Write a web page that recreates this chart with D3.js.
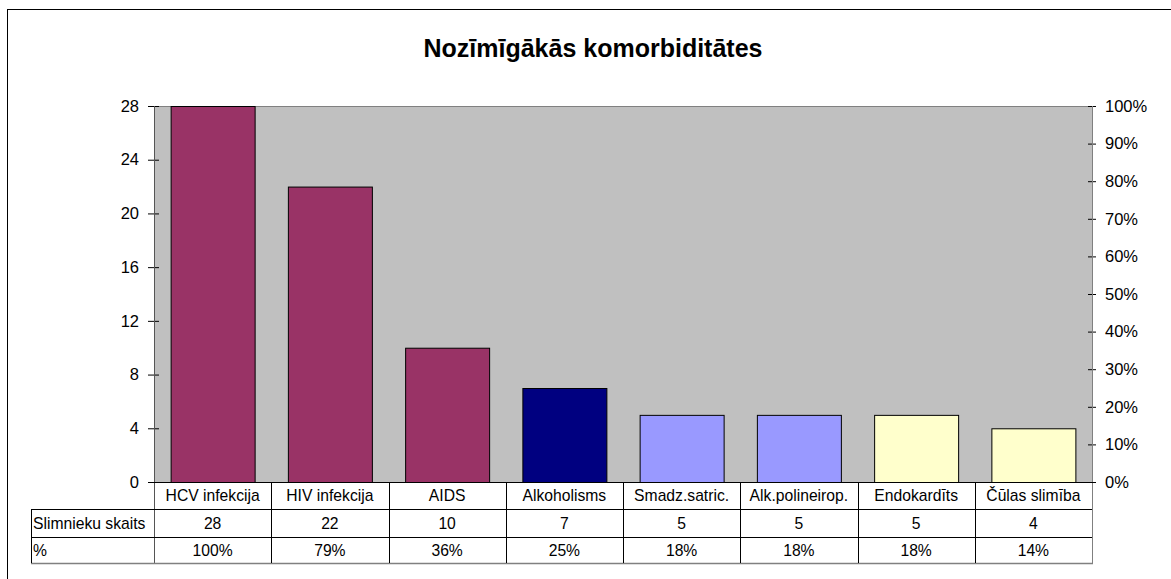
<!DOCTYPE html>
<html><head><meta charset="utf-8">
<script src="https://cdn.jsdelivr.net/npm/d3@7"></script>
<style>body{margin:0;background:#fff}svg{display:block;font-family:Arial,"Liberation Sans",sans-serif}</style>
</head><body>
<svg id="c" width="1171" height="579"></svg>
<script>
const title = "Nozīmīgākās komorbiditātes";
const categories = ["HCV infekcija","HIV infekcija","AIDS","Alkoholisms","Smadz.satric.","Alk.polineirop.","Endokardīts","Čūlas slimība"];
const counts = [28,22,10,7,5,5,5,4];
const percentLabels = ["100%","79%","36%","25%","18%","18%","18%","14%"];
const barColors = ["#993366","#993366","#993366","#000080","#9999FF","#9999FF","#FFFFCC","#FFFFCC"];
const leftTicks = [0,4,8,12,16,20,24,28];
const rightTicks = [0,0.1,0.2,0.3,0.4,0.5,0.6,0.7,0.8,0.9,1.0];
const rowHeaders = ["Slimnieku skaits","%"];

const svg = d3.select("#c");
const L=154, R=1092, T=106, B=482;
const tableLeft=31, row1B=509, row2B=537, row3B=563;
const fs=15.7;

svg.append("rect").attr("x",7.5).attr("y",9.5).attr("width",1200).attr("height",700)
  .attr("fill","#fff").attr("stroke","#000").attr("stroke-width",1);

svg.append("text").attr("x",593).attr("y",57).attr("text-anchor","middle")
  .attr("font-size",25).attr("font-weight","bold").text(title);

const x = d3.scaleBand().domain(categories).range([L,R]).paddingInner(0.2836).paddingOuter(0.1418);
const y = d3.scaleLinear().domain([0,28]).range([B,T]);
const y2 = d3.scaleLinear().domain([0,1]).range([B,T]);

svg.append("rect").attr("x",L).attr("y",T).attr("width",R-L).attr("height",B-T).attr("fill","#C0C0C0");
svg.append("line").attr("x1",L).attr("x2",R).attr("y1",T+0.5).attr("y2",T+0.5).attr("stroke","#808080");

svg.selectAll(".bar").data(counts).enter().append("rect")
  .attr("x",(d,i)=>x(categories[i])+0.5).attr("y",d=>y(d)+0.5)
  .attr("width",x.bandwidth()).attr("height",d=>B-y(d))
  .attr("fill",(d,i)=>barColors[i]).attr("stroke","#000").attr("stroke-width",1);

const la = svg.append("g").attr("transform",`translate(${L},0)`)
  .call(d3.axisLeft(y).tickValues(leftTicks).tickSize(6).tickPadding(8).tickFormat(d3.format("d")));
la.selectAll(".tick line").attr("x2",-6).attr("x1",5);
la.select(".domain").remove();
la.selectAll("text").attr("font-size",16.5).attr("font-family","Arial,'Liberation Sans',sans-serif").attr("fill","#000").attr("dx",-1);
svg.append("line").attr("x1",L+0.5).attr("x2",L+0.5).attr("y1",T).attr("y2",row3B).attr("stroke","#555");

const ra = svg.append("g").attr("transform",`translate(${R},0)`)
  .call(d3.axisRight(y2).tickValues(rightTicks).tickSize(4).tickPadding(9).tickFormat(d3.format(".0%")));
ra.selectAll(".tick line").attr("x1",-4).attr("x2",4);
ra.select(".domain").remove();
ra.selectAll("text").attr("font-size",16.5).attr("font-family","Arial,'Liberation Sans',sans-serif").attr("fill","#000");
svg.append("line").attr("x1",R+0.5).attr("x2",R+0.5).attr("y1",T).attr("y2",row3B).attr("stroke","#808080");

// data table
const g = svg.append("g");
g.append("line").attr("x1",L).attr("x2",R+4).attr("y1",B+0.5).attr("y2",B+0.5).attr("stroke","#000");
[row1B,row2B].forEach(yy=>g.append("line").attr("x1",tableLeft).attr("x2",R).attr("y1",yy+0.5).attr("y2",yy+0.5).attr("stroke","#000"));
g.append("line").attr("x1",tableLeft).attr("x2",R+1).attr("y1",row3B+0.5).attr("y2",row3B+0.5).attr("stroke","#808080").attr("stroke-width",1.5);
g.append("line").attr("x1",tableLeft+0.5).attr("x2",tableLeft+0.5).attr("y1",row1B).attr("y2",row3B).attr("stroke","#000");
categories.forEach((c,i)=>{
  if(i>0){
    const xx = Math.round(L + i*(R-L)/categories.length)+0.5;
    g.append("line").attr("x1",xx).attr("x2",xx).attr("y1",B).attr("y2",row3B).attr("stroke","#000");
  }
  const cx = x(c)+x.bandwidth()/2;
  g.append("text").attr("x",cx).attr("y",(B+row1B)/2+5.5).attr("text-anchor","middle").attr("font-size",fs).text(c);
  g.append("text").attr("x",cx).attr("y",(row1B+row2B)/2+5.5).attr("text-anchor","middle").attr("font-size",fs).text(counts[i]);
  g.append("text").attr("x",cx).attr("y",(row2B+row3B)/2+5.5).attr("text-anchor","middle").attr("font-size",fs).text(percentLabels[i]);
});
g.append("text").attr("x",tableLeft+2).attr("y",(row1B+row2B)/2+5.5).attr("font-size",fs).text(rowHeaders[0]);
g.append("text").attr("x",tableLeft+2).attr("y",(row2B+row3B)/2+5.5).attr("font-size",fs).text(rowHeaders[1]);
</script>
</body></html>
